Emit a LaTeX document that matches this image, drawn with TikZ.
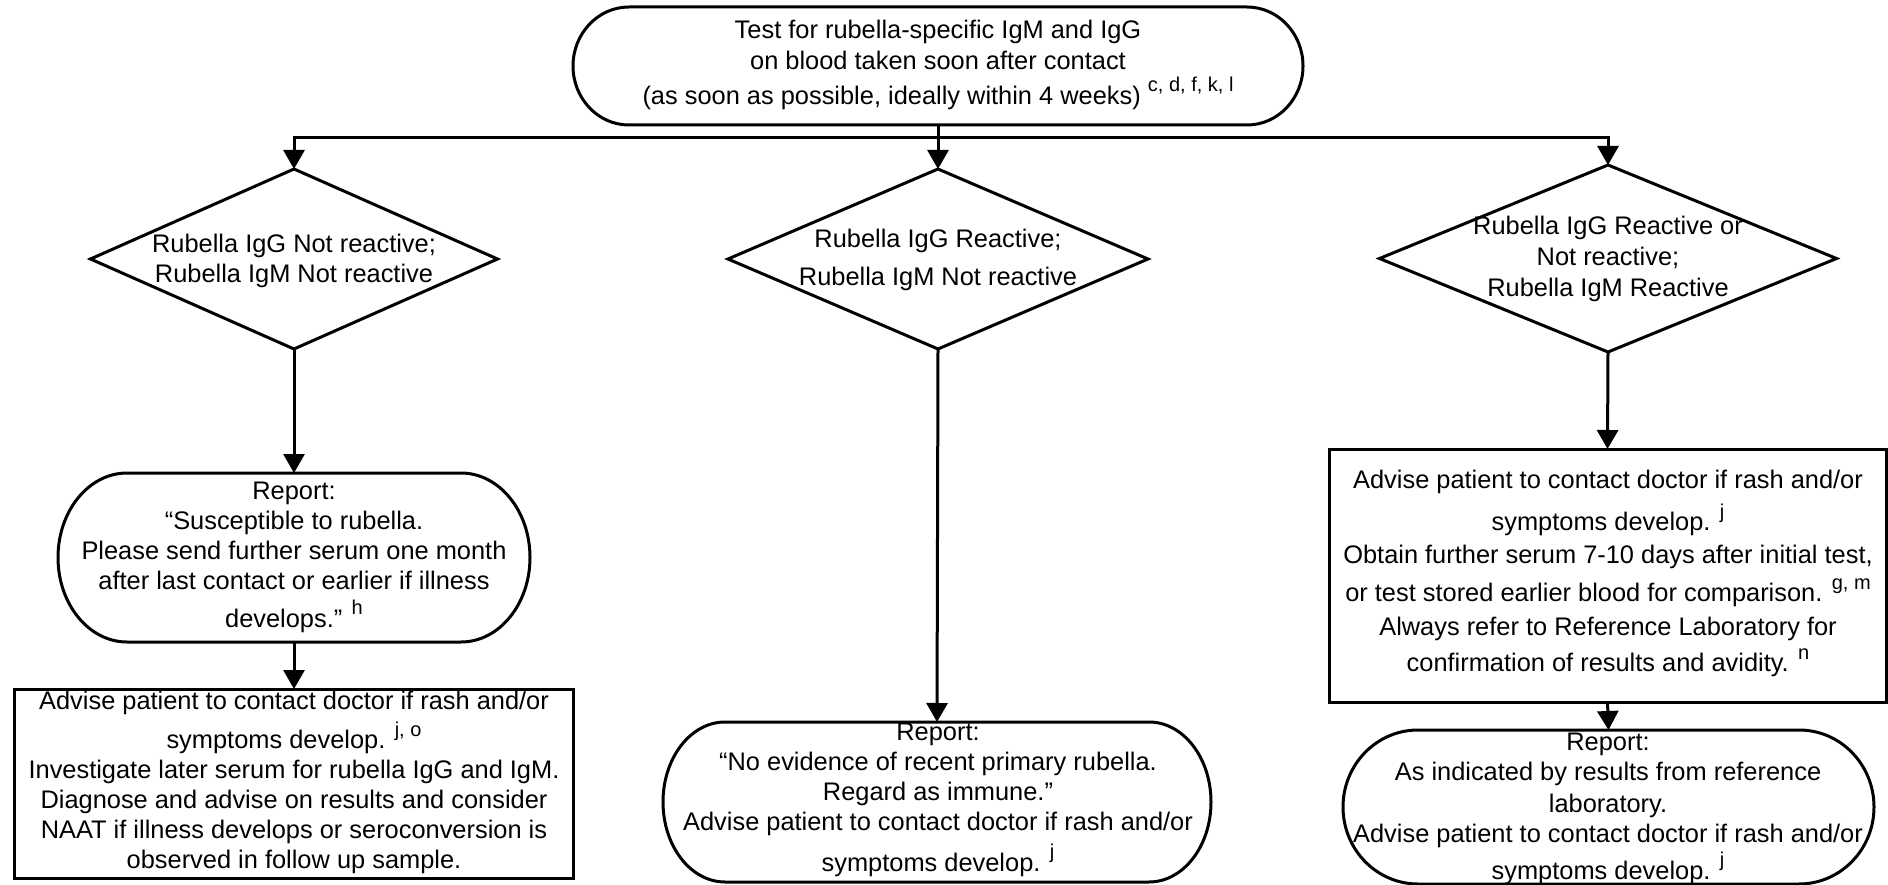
\documentclass[tikz,border=0pt]{standalone}
\usepackage{fontspec}
\setmainfont{Liberation Sans}
\usetikzlibrary{shapes.geometric,arrows.meta}
\newcommand\supx[1]{\raisebox{0.5em}{\fontsize{20}{20}\selectfont #1}}
% stadium outline around an (undrawn) rectangular node
\newcommand\stad[3]{%
  \draw ([xshift=#2pt]#1.north west) -- ([xshift=-#2pt]#1.north east)
    arc[start angle=90, end angle=-90, x radius=#2pt, y radius=#3pt]
    -- ([xshift=#2pt]#1.south west)
    arc[start angle=-90, end angle=-270, x radius=#2pt, y radius=#3pt] -- cycle;}
\begin{document}
\begin{tikzpicture}[x=1pt,y=-1pt,line width=3pt,line join=miter,
  every node/.style={inner sep=0pt, outer sep=0pt},
  txt/.style={align=center, font=\fontsize{25.4}{30}\selectfont},
  term/.style={},
  box/.style={draw},
  dia/.style={draw, diamond},
  tip/.tip={Triangle[length=19pt,width=21pt]},
  arr/.style={-tip}
]
\useasboundingbox (0,0) rectangle (1888,885);

% top
\node[term, minimum width=730, minimum height=118] (top) at (938,66) {};
\stad{top}{56}{59}
\node[txt, font=\fontsize{25.4}{31}\selectfont] (ttop) at (938,65) {Test for rubella-specific IgM and IgG\\on blood taken soon after contact\\[4pt](as soon as possible, ideally within 4 weeks) \supx{c, d, f, k, l}};

% diamonds
\node[dia, minimum width=407, minimum height=180] (d1) at (294,259) {};
\node[txt] (t1) at (294,260.5) {Rubella IgG Not reactive;\\Rubella IgM Not reactive};
\node[dia, minimum width=420, minimum height=180] (d2) at (938,259) {};
\node[txt] (t2) at (938,260) {Rubella IgG Reactive;\\[8pt]Rubella IgM Not reactive};
\node[dia, minimum width=457, minimum height=187] (d3) at (1608,258.5) {};
\node[txt, font=\fontsize{25.4}{31}\selectfont] (t3) at (1608,259) {Rubella IgG Reactive or\\Not reactive;\\Rubella IgM Reactive};

% left column
\node[term, minimum width=472, minimum height=169] (r1) at (294,557.5) {};
\stad{r1}{69}{84.5}
\node[txt] (tr1) at (294,557) {Report:\\“Susceptible to rubella.\\Please send further serum one month\\after last contact or earlier if illness\\[8pt]develops.” \supx{h}};
\node[box, minimum width=559, minimum height=189] (a1) at (294,783.5) {};
\node[txt] (ta1) at (294,782.5) {Advise patient to contact doctor if rash and/or\\[6pt]symptoms develop. \supx{j, o}\\Investigate later serum for rubella IgG and IgM.\\Diagnose and advise on results and consider\\NAAT if illness develops or seroconversion is\\observed in follow up sample.};

% middle column
\node[term, minimum width=548, minimum height=160] (r2) at (937,802) {};
\stad{r2}{62}{80}
\node[txt] (tr2) at (938,800) {Report:\\“No evidence of recent primary rubella.\\Regard as immune.”\\Advise patient to contact doctor if rash and/or\\[7pt]symptoms develop. \supx{j}};

% right column
\node[box, minimum width=557, minimum height=253] (a3) at (1607.5,575.5) {};
\node[txt] (ta3) at (1608,573.5) {Advise patient to contact doctor if rash and/or\\[9pt]symptoms develop. \supx{j}\\[3pt]Obtain further serum 7-10 days after initial test,\\[8pt]or test stored earlier blood for comparison. \supx{g, m}\\[4pt]Always refer to Reference Laboratory for\\[6pt]confirmation of results and avidity. \supx{n}};
\node[term, minimum width=531, minimum height=154] (r3) at (1608.5,807) {};
\stad{r3}{75}{77}
\node[txt] (tr3) at (1608,809) {Report:\\As indicated by results from reference\\[2pt]laboratory.\\Advise patient to contact doctor if rash and/or\\[3pt]symptoms develop. \supx{j}};

% connectors
\coordinate (jl) at (294,138);
\coordinate (jr) at (1608,138);
\draw[tip-tip] (d1.north) -- (jl) -- (jr) -- (d3.north);
\draw[arr] (top.south) -- (d2.north);
\draw[arr] (d1.south) -- (r1.north);
\draw[arr] (r1.south) -- (a1.north);
\draw[arr] (d2.south) -- (r2.north);
\draw[arr] (d3.south) -- (a3.north);
\draw[arr] (a3.south) -- (r3.north);
\end{tikzpicture}
\end{document}
